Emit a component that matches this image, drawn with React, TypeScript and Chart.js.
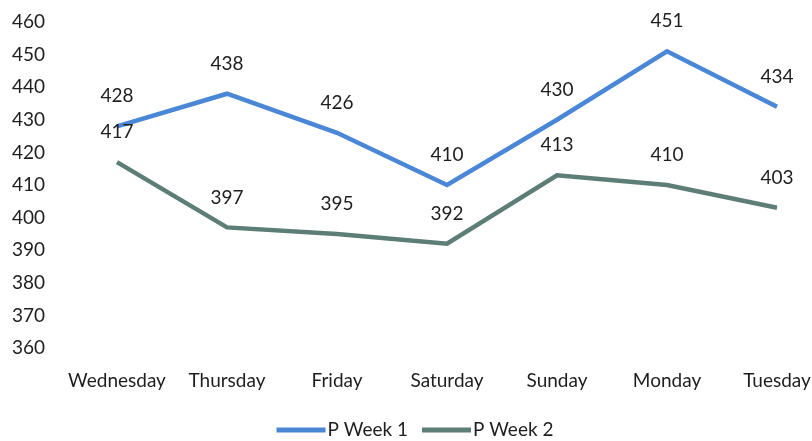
import React, { useEffect, useRef } from "react";
import { Chart, registerables } from "chart.js";

Chart.register(...registerables);

const days = ["Wednesday", "Thursday", "Friday", "Saturday", "Sunday", "Monday", "Tuesday"];
const week1 = [428, 438, 426, 410, 430, 451, 434];
const week2 = [417, 397, 395, 392, 413, 410, 403];
const yTicks = [360, 370, 380, 390, 400, 410, 420, 430, 440, 450, 460];

const FONT = "Lato, 'Open Sans', sans-serif";
const FS = 19;
const TEXT = "#1e1e1e";

const dataLabels = {
  id: "dataLabels",
  afterDatasetsDraw(chart: any) {
    const ctx = chart.ctx;
    ctx.save();
    ctx.font = `${FS}px ${FONT}`;
    ctx.fillStyle = TEXT;
    ctx.textAlign = "center";
    ctx.textBaseline = "middle";
    chart.data.datasets.forEach((ds: any, i: number) => {
      const meta = chart.getDatasetMeta(i);
      meta.data.forEach((pt: any, j: number) => {
        ctx.fillText(String(ds.data[j]), pt.x, pt.y - 30);
      });
    });
    ctx.restore();
  },
};

const lineLegend = {
  id: "lineLegend",
  afterDraw(chart: any) {
    const ctx = chart.ctx;
    ctx.save();
    ctx.font = `${FS}px ${FONT}`;
    ctx.textBaseline = "middle";
    ctx.textAlign = "left";
    const boxW = 49;
    const gap = 2;
    const itemGap = 14;
    const items = chart.data.datasets.map((ds: any) => ({
      label: ds.label,
      color: ds.borderColor,
      w: boxW + gap + ctx.measureText(ds.label).width,
    }));
    const total = items.reduce((s: number, it: any) => s + it.w, 0) + itemGap * (items.length - 1);
    let x = 415 - total / 2;
    const y = 430;
    items.forEach((it: any) => {
      ctx.fillStyle = it.color;
      ctx.fillRect(x, y - 2.5, boxW, 5);
      ctx.fillStyle = TEXT;
      ctx.fillText(it.label, x + boxW + gap, y);
      x += it.w + itemGap;
    });
    ctx.restore();
  },
};

export default function App() {
  const ref = useRef<HTMLCanvasElement>(null);
  useEffect(() => {
    const chart = new Chart(ref.current!, {
      type: "line",
      data: {
        labels: days,
        datasets: [
          {
            label: "P Week 1",
            data: week1,
            borderColor: "#4a87d6",
            backgroundColor: "#4a87d6",
            borderWidth: 4.5,
            pointRadius: 0,
            tension: 0,
          },
          {
            label: "P Week 2",
            data: week2,
            borderColor: "#5d7d77",
            backgroundColor: "#5d7d77",
            borderWidth: 4.5,
            pointRadius: 0,
            tension: 0,
          },
        ],
      },
      options: {
        animation: false,
        responsive: false,
        layout: { padding: { left: 12, right: 35, top: 22, bottom: 43 } },
        plugins: {
          legend: { display: false },
          tooltip: { enabled: false },
        },
        scales: {
          x: {
            offset: false,
            grid: { display: false, drawTicks: false },
            border: { display: false },
            ticks: { padding: 21, color: TEXT, font: { size: FS, family: FONT }, maxRotation: 0, autoSkip: false },
            afterFit(scale: any) {
              scale.height = 50;
              scale.paddingLeft = 0;
              scale.paddingRight = 0;
            },
          },
          y: {
            min: 360,
            max: 460,
            grid: { display: false, drawTicks: false },
            border: { display: false },
            afterBuildTicks(scale: any) {
              scale.ticks = yTicks.map((v) => ({ value: v }));
            },
            ticks: {
              crossAlign: "far",
              color: TEXT,
              font: { size: FS, family: FONT },
            },
            afterFit(scale: any) {
              scale.width = 105;
              scale.paddingTop = 0;
              scale.paddingBottom = 0;
            },
          },
        },
      },
      plugins: [dataLabels, lineLegend],
    });
    return () => chart.destroy();
  }, []);
  return (
    <div style={{ position: "fixed", left: 0, top: 0, width: 812, height: 441, background: "#fff" }}>
      <canvas ref={ref} width={812} height={441} />
    </div>
  );
}
